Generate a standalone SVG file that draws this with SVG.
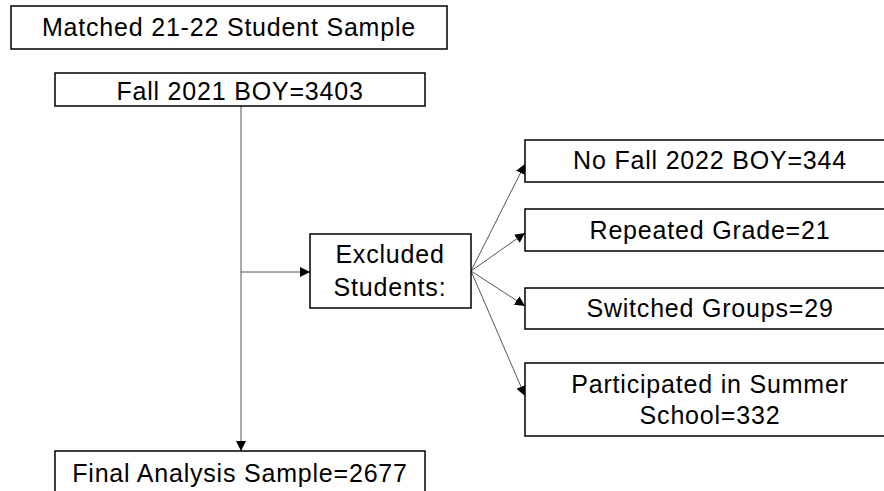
<svg xmlns="http://www.w3.org/2000/svg" width="884" height="491" viewBox="0 0 884 491">
<style>
.box{fill:#fff;stroke:#000;stroke-width:1.5}
.t{font-family:"Liberation Sans",Arial,sans-serif;font-size:25px;letter-spacing:0.8px;fill:#000;text-anchor:middle}
.c{stroke:#555;stroke-width:1;fill:none}
</style>
<defs>
<marker id="ah" viewBox="0 0 10 10" refX="10" refY="5" markerWidth="10" markerHeight="10" markerUnits="userSpaceOnUse" orient="auto">
<path d="M0,0 L10,5 L0,10 z" fill="#000"/>
</marker>
</defs>
<rect width="884" height="491" fill="#fff"/>
<g id="connectors">
<line class="c" x1="241" y1="106" x2="241" y2="451" marker-end="url(#ah)"/>
<line class="c" x1="241" y1="272" x2="310" y2="272" marker-end="url(#ah)"/>
<line class="c" x1="471" y1="271" x2="525" y2="164" marker-end="url(#ah)"/>
<line class="c" x1="471" y1="271" x2="525" y2="233" marker-end="url(#ah)"/>
<line class="c" x1="471" y1="271" x2="525" y2="306" marker-end="url(#ah)"/>
<line class="c" x1="471" y1="271" x2="525" y2="396" marker-end="url(#ah)"/>
</g>
<g id="n-matched">
<rect class="box" x="11" y="6" width="436" height="43"/>
<text class="t" x="229" y="36">Matched 21-22 Student Sample</text>
</g>
<g id="n-fall2021">
<rect class="box" x="55" y="73" width="370" height="33"/>
<text class="t" x="240" y="100">Fall 2021 BOY=3403</text>
</g>
<g id="n-excluded">
<rect class="box" x="310" y="234" width="161" height="74"/>
<text class="t" x="390" y="263">Excluded</text>
<text class="t" x="390" y="296">Students:</text>
</g>
<g id="n-nofall">
<rect class="box" x="525" y="140" width="370" height="42"/>
<text class="t" x="710" y="169">No Fall 2022 BOY=344</text>
</g>
<g id="n-repeated">
<rect class="box" x="525" y="209" width="370" height="42"/>
<text class="t" x="710" y="239">Repeated Grade=21</text>
</g>
<g id="n-switched">
<rect class="box" x="525" y="288" width="370" height="41"/>
<text class="t" x="710" y="317">Switched Groups=29</text>
</g>
<g id="n-summer">
<rect class="box" x="525" y="363" width="370" height="73"/>
<text class="t" x="710" y="393">Participated in Summer</text>
<text class="t" x="710" y="424">School=332</text>
</g>
<g id="n-final">
<rect class="box" x="55" y="451" width="370" height="50"/>
<text class="t" x="240" y="482">Final Analysis Sample=2677</text>
</g>
</svg>
